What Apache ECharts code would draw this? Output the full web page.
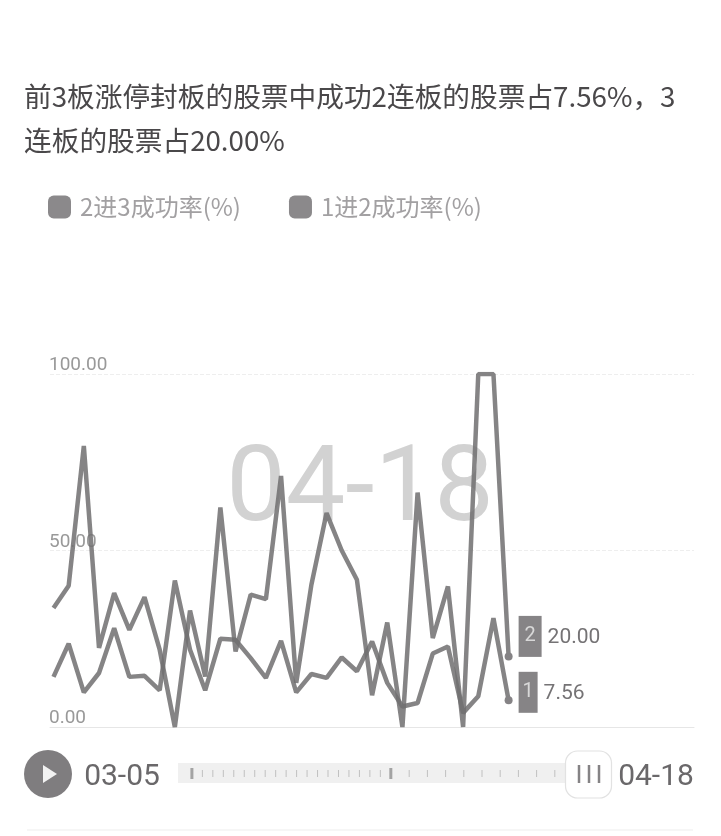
<!DOCTYPE html>
<html><head><meta charset="utf-8">
<script src="https://cdn.jsdelivr.net/npm/echarts@6/dist/echarts.min.js"></script>
<style>html,body{margin:0;padding:0;background:#fff}#c{width:721px;height:836px}</style>
</head><body><div id="c"></div>
<script>
const titleLines = ['前3板涨停封板的股票中成功2连板的股票占7.56%，3', '连板的股票占20.00%'];
const seriesNames = ['2进3成功率(%)', '1进2成功率(%)'];
const startDate = '03-05';
const endDate = '04-18';
const rate2to3 = [33.7,40,79.6,22.4,37.9,27.5,36.8,21.9,0,33,14.3,62.2,21.4,37.5,36.2,71.1,12.5,40.3,60.6,50,41.7,9,29.6,0,66.4,25.2,39.8,0,100,100,20];
const rate1to2 = [14.2,23.6,9.8,15.3,28,14.2,14.5,10.4,41.5,21.9,10.4,25,24.7,19.5,13.9,24.4,9.8,15,13.9,19.7,15.8,24.2,12.5,5.8,6.8,20.8,22.8,4,8.7,30.8,7.56];
const yTicks = [0,50,100];

const GRAY = 'rgba(112,110,112,0.85)';
const pair = a => a.map((v,i)=>[i,v]);
const last = rate2to3.length-1;
const cnFont = '"Noto Sans CJK SC"';
const numFont = 'Roboto';

function lineSeries(name, data, badge, badgeWidth, offset){
  return {
    name, type:'line', data:pair(data), clip:true, z:3,
    showSymbol:true, showAllSymbol:true,
    symbol:(v,p)=>p.dataIndex===last?'circle':'none', symbolSize:8,
    lineStyle:{width:4.5,color:GRAY,join:'bevel'},
    itemStyle:{color:'#858385',opacity:1},
    emphasis:{disabled:true},
    animation:false,
    endLabel:{
      show:true, offset,
      formatter:p=>`{b|${badge}}{v|${p.value[1].toFixed(2)}}`,
      rich:{
        b:{backgroundColor:'#868486',color:'#d8d8d8',fontFamily:numFont,fontSize:20,width:badgeWidth,height:41,lineHeight:41,align:'center'},
        v:{color:'#757375',fontFamily:numFont,fontSize:21,padding:[3,0,0,6]}
      }
    }
  };
}

const handleBars = [579,589,599];
const graphics = [
  {type:'text',z:0,style:{text:endDate,x:360,y:493,align:'center',verticalAlign:'middle',fontFamily:numFont,fontWeight:400,fontSize:106,fill:'#d2d2d2'}},
  {type:'circle',shape:{cx:48,cy:774,r:24},style:{fill:'#7f7d7f'}},
  {type:'polygon',shape:{points:[[43,765],[43,783],[57,774]]},style:{fill:'#f2f2f2'}},
  {type:'text',style:{text:startDate,x:122,y:777,align:'center',verticalAlign:'middle',fontFamily:numFont,fontSize:30,fill:'#6a686a'}},
  {type:'rect',shape:{x:178,y:763,width:390,height:20},style:{fill:'#f0f0f0'}},
];
for(let i=0;i<=last;i++){
  const x = i<=19 ? 191.9+10.47*i : 391+18.2*(i-19);
  const major = i===0||i===19;
  if(i<29) graphics.push({type:'rect',shape:{x:x-(major?1.5:.5),y:major?768:770,width:major?3:1,height:major?11:7},style:{fill:major?'#a3a3a3':'#c0c0c0'}});
}
graphics.push({type:'rect',shape:{x:565.5,y:751,width:46,height:47,r:12},style:{fill:'#fff',stroke:'#e2e2e2',lineWidth:1.2}});
handleBars.forEach(x=>graphics.push({type:'rect',shape:{x:x-1.25,y:765,width:2.5,height:18},style:{fill:'#858385'}}));
graphics.push({type:'text',style:{text:endDate,x:656,y:777,align:'center',verticalAlign:'middle',fontFamily:numFont,fontSize:30,fill:'#6a686a'}});
graphics.push({type:'rect',shape:{x:27,y:829,width:666,height:2},style:{fill:'#f6f6f6'}});

const chart = echarts.init(document.getElementById('c'),null,{renderer:'canvas'});
chart.setOption({
  backgroundColor:'#fff',
  animation:false,
  title:{left:24,top:74,padding:0,text:titleLines.join('\n'),textStyle:{fontFamily:cnFont,fontSize:27.7,fontWeight:400,lineHeight:44,color:'#4a484a'}},
  legend:{
    left:48,top:195,padding:0,icon:'roundRect',itemWidth:23,itemHeight:23,itemGap:48,
    data:seriesNames,selectedMode:false,
    textStyle:{fontFamily:cnFont,fontWeight:400,fontSize:24,color:'#a2a0a2',padding:[0,0,0,4]},
    itemStyle:{color:'#8b898b',borderWidth:0}
  },
  grid:{left:50,right:27,top:374,bottom:109,containLabel:false},
  xAxis:{type:'value',min:-0.23,max:42.22,show:true,axisLine:{show:true,onZero:true,lineStyle:{color:'#e6e6e6',width:1}},axisTick:{show:false},axisLabel:{show:false},splitLine:{show:false}},
  yAxis:{type:'value',min:yTicks[0],max:yTicks[2],interval:yTicks[1]-yTicks[0],
    axisLine:{show:false},axisTick:{show:false},
    splitLine:{show:true,lineStyle:{type:'dashed',color:'#eeeeee',width:1}},
    axisLabel:{inside:true,margin:-1,verticalAlign:'bottom',padding:[0,0,-1,0],fontFamily:numFont,fontSize:19,color:'#999999',formatter:v=>v.toFixed(2),showMinLabel:true,showMaxLabel:true}},
  graphic:graphics,
  tooltip:{show:false},
  series:[
    lineSeries(seriesNames[0],rate2to3,'2',23,[2,-20]),
    lineSeries(seriesNames[1],rate1to2,'1',19,[2,-8])
  ]
});
</script></body></html>
